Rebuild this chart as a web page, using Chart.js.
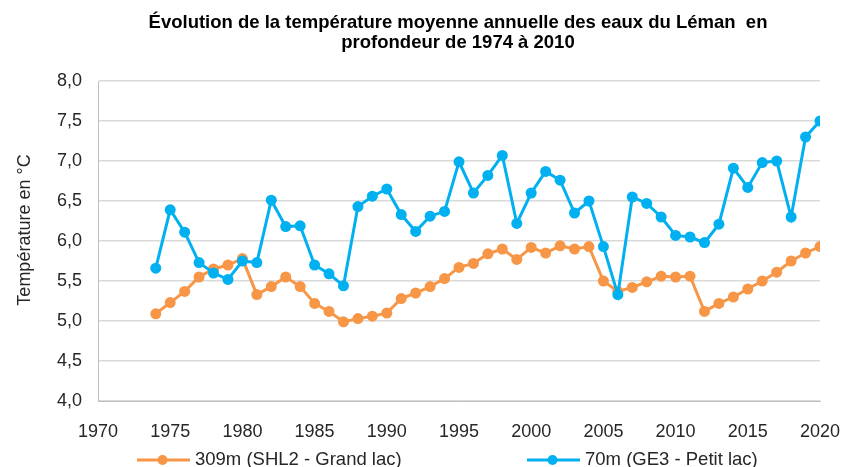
<!DOCTYPE html>
<html lang="fr">
<head>
<meta charset="utf-8">
<title>Température du Léman en profondeur</title>
<script src="https://cdn.jsdelivr.net/npm/chart.js@4"></script>
<style>
  html, body { margin: 0; padding: 0; background: #fff; }
  canvas { display: block; }
</style>
</head>
<body>
<canvas id="lemanChart" width="841" height="467"></canvas>
<script>
// Données (°C)
const annees = [1974, 1975, 1976, 1977, 1978, 1979, 1980, 1981, 1982, 1983,
                1984, 1985, 1986, 1987, 1988, 1989, 1990, 1991, 1992, 1993,
                1994, 1995, 1996, 1997, 1998, 1999, 2000, 2001, 2002, 2003,
                2004, 2005, 2006, 2007, 2008, 2009, 2010, 2011, 2012, 2013,
                2014, 2015, 2016, 2017, 2018, 2019, 2020];
const grandLac = [5.09, 5.23, 5.37, 5.55, 5.65, 5.70, 5.78, 5.33, 5.43, 5.55,
                  5.43, 5.22, 5.12, 4.99, 5.03, 5.06, 5.10, 5.28, 5.35, 5.43,
                  5.53, 5.67, 5.72, 5.84, 5.90, 5.77, 5.92, 5.85, 5.94, 5.90,
                  5.93, 5.50, 5.37, 5.42, 5.49, 5.56, 5.55, 5.56, 5.12, 5.22,
                  5.30, 5.40, 5.50, 5.61, 5.75, 5.85, 5.93];
const petitLac = [5.66, 6.39, 6.11, 5.73, 5.60, 5.52, 5.75, 5.73, 6.51, 6.18,
                  6.19, 5.70, 5.59, 5.44, 6.43, 6.56, 6.65, 6.33, 6.12, 6.31,
                  6.37, 6.99, 6.60, 6.82, 7.07, 6.22, 6.60, 6.87, 6.76, 6.35,
                  6.50, 5.93, 5.33, 6.55, 6.47, 6.30, 6.07, 6.05, 5.98, 6.21,
                  6.91, 6.67, 6.98, 7.00, 6.30, 7.30, 7.50];
const series = ['309m (SHL2 - Grand lac)', '70m (GE3 - Petit lac)'];
const couleurs = ['#F79646', '#00B0F0'];
const titre = ['Évolution de la température moyenne annuelle des eaux du Léman  en',
               'profondeur de 1974 à 2010'];
const titreY = 'Température en °C';

const police = "'Liberation Sans', Arial, sans-serif";
Chart.defaults.font.family = police;
Chart.defaults.color = '#262626';

function points(valeurs) {
    return annees.map((a, i) => ({ x: a, y: valeurs[i] }));
}

function serie(idx, valeurs, ordre) {
    return {
        label: series[idx],
        data: points(valeurs),
        borderColor: couleurs[idx],
        backgroundColor: couleurs[idx],
        borderWidth: 3,
        pointRadius: 5.5,
        pointBorderWidth: 0,
        pointBackgroundColor: couleurs[idx],
        tension: 0,
        order: ordre
    };
}

// Titre, titre de l'axe Y et légende dessinés à la main
const decor = {
    id: 'decor',
    afterDraw(chart) {
        const ctx = chart.ctx;
        ctx.save();
        ctx.fillStyle = '#000';
        ctx.font = 'bold 18.5px ' + police;
        ctx.textAlign = 'center';
        ctx.textBaseline = 'alphabetic';
        ctx.fillText(titre[0], 458, 28);
        ctx.fillText(titre[1], 458, 48);

        ctx.save();
        ctx.fillStyle = '#262626';
        ctx.font = '18px ' + police;
        ctx.translate(30, 230);
        ctx.rotate(-Math.PI / 2);
        ctx.fillText(titreY, 0, 0);
        ctx.restore();

        // légende
        const xs = [137, 527];
        ctx.font = '18.5px ' + police;
        ctx.textAlign = 'left';
        series.forEach((nom, i) => {
            const x = xs[i];
            ctx.strokeStyle = couleurs[i];
            ctx.lineWidth = 3;
            ctx.beginPath();
            ctx.moveTo(x, 460);
            ctx.lineTo(x + 53, 460);
            ctx.stroke();
            ctx.fillStyle = couleurs[i];
            ctx.beginPath();
            ctx.arc(x + 25.5, 460, 5, 0, Math.PI * 2);
            ctx.fill();
            ctx.fillStyle = '#262626';
            ctx.fillText(nom, x + 58, 465);
        });
        ctx.restore();
    }
};

const ctx = document.getElementById('lemanChart').getContext('2d');
new Chart(ctx, {
    type: 'line',
    data: {
        datasets: [serie(0, grandLac, 1), serie(1, petitLac, 0)]
    },
    options: {
        responsive: false,
        animation: false,
        devicePixelRatio: 1,
        layout: { padding: { left: 0, right: 21, top: 81, bottom: 0 } },
        plugins: {
            legend: { display: false },
            title: { display: false },
            tooltip: { enabled: false }
        },
        scales: {
            x: {
                type: 'linear',
                min: 1970,
                max: 2020,
                afterFit: s => { s.height = 66; s.paddingLeft = 0; s.paddingRight = 0; },
                grid: { display: false },
                border: { display: true, color: '#bfbfbf', width: 1 },
                ticks: {
                    stepSize: 5,
                    padding: 12,
                    font: { size: 18 },
                    maxRotation: 0,
                    callback: v => String(v)
                }
            },
            y: {
                min: 4,
                max: 8,
                afterFit: s => { s.width = 98; },
                grid: { color: '#d9d9d9', lineWidth: 1.5, drawTicks: false },
                border: { display: true, color: '#bfbfbf', width: 1 },
                ticks: {
                    stepSize: 0.5,
                    padding: 16,
                    font: { size: 18 },
                    callback: v => v.toFixed(1).replace('.', ',')
                }
            }
        }
    },
    plugins: [decor]
});
</script>
</body>
</html>
